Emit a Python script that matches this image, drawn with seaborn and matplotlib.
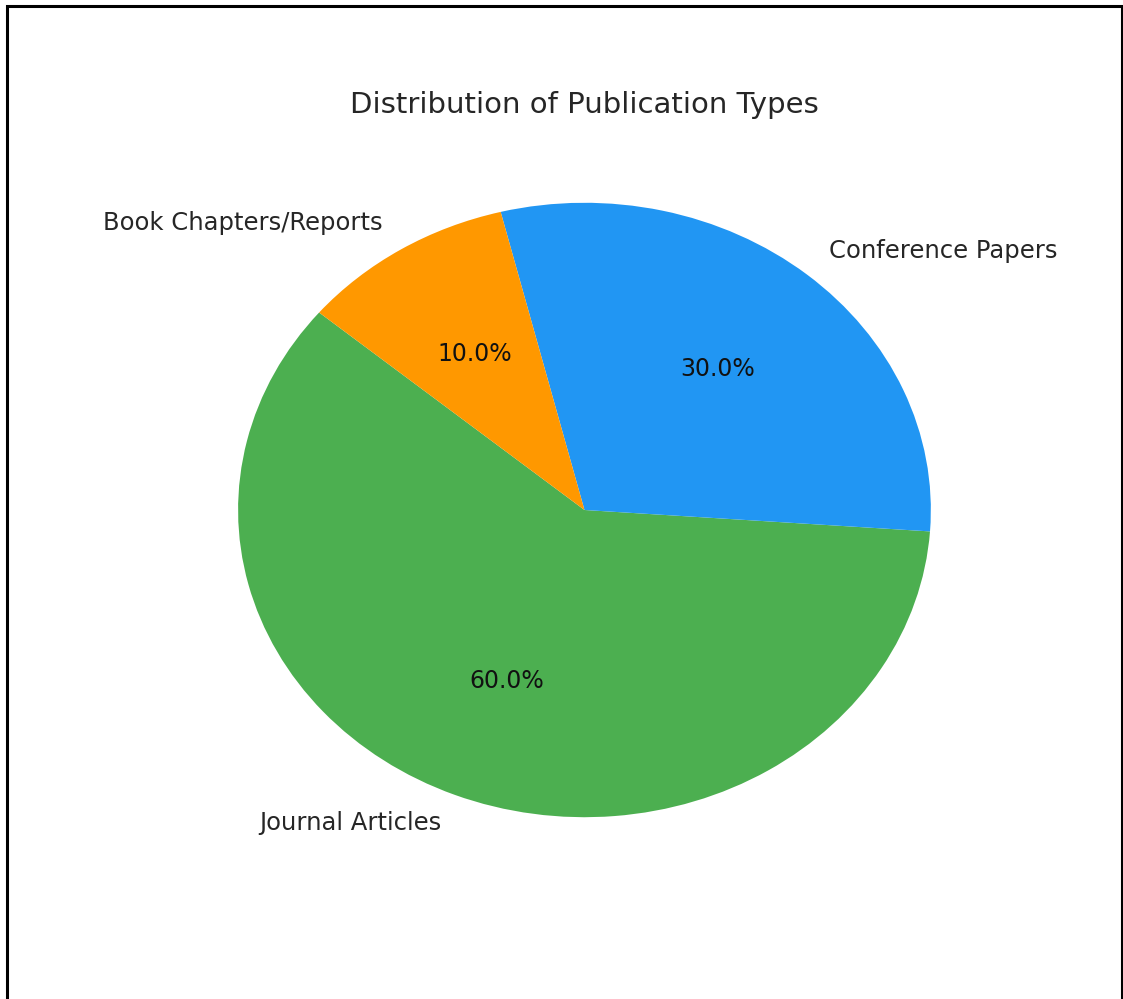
import matplotlib
matplotlib.use("Agg")
import matplotlib.pyplot as plt
from matplotlib.patches import Rectangle
import seaborn as sns

# Publication counts by type (shares in percent)
categories = ["Journal Articles", "Conference Papers", "Book Chapters/Reports"]
shares = [60, 30, 10]
colors = ["#4CAF50", "#2196F3", "#FF9800"]

sns.set_theme(style="white")
plt.rcParams["font.family"] = ["DejaVu Sans"]

fig = plt.figure(figsize=(11.23, 9.99), dpi=100)
ax = fig.add_axes([0.1349, 0.1051, 0.7711, 0.7688])

wedges, texts, autotexts = ax.pie(
    shares,
    labels=categories,
    colors=colors,
    autopct="%1.1f%%",
    startangle=140,
    labeldistance=1.1,
    pctdistance=0.6,
    wedgeprops=dict(linewidth=0),
    textprops=dict(fontsize=17.5, color="#262626"),
)
for t in autotexts:
    t.set_color("#111111")
    t.set_fontsize(17)

ax.set_aspect("auto")
ax.set_xlim(-1.25, 1.25)
ax.set_ylim(-1.25, 1.25)
ax.set_title("Distribution of Publication Types", fontsize=21, color="#262626", pad=9)

# Frame drawn around the figure
fig.add_artist(Rectangle((6.5 / 1123, -0.02), (1121.5 - 6.5) / 1123, 1.02 - 5.5 / 999,
                         transform=fig.transFigure, fill=False, lw=2.2, ec="black"))

fig.savefig("out.png", dpi=100, facecolor="white")
